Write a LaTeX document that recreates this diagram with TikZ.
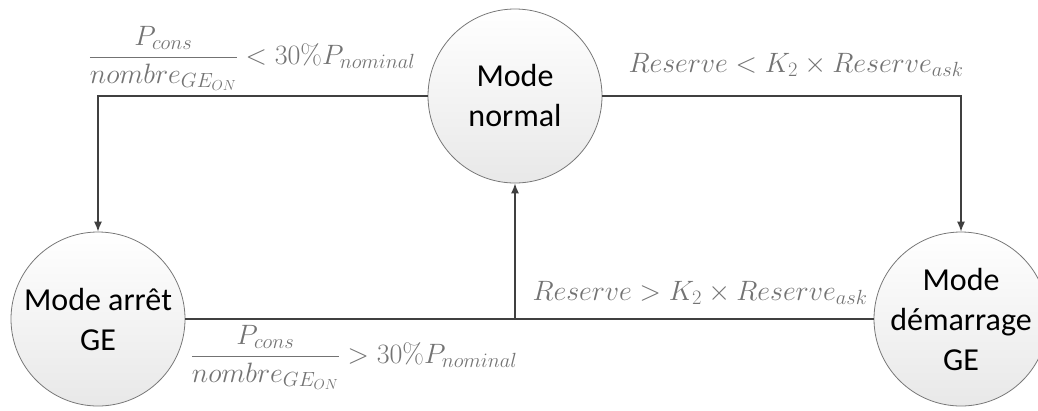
\RequirePackage{fix-cm}
\documentclass[tikz,border=0pt]{standalone}
\usepackage{amsmath}
\usepackage[no-math]{fontspec}
\setmainfont{Carlito}
\usetikzlibrary{positioning,arrows.meta}
\DeclareMathSizes{28}{28}{20.5}{14.5}
\definecolor{condgray}{RGB}{115,115,115}
\definecolor{linegray}{RGB}{64,64,64}
\definecolor{rimgray}{RGB}{120,120,120}

\begin{document}
\begin{tikzpicture}[x=1pt, y=-1pt,
  mode/.style={circle, draw=rimgray, line width=0.8pt, minimum size=174pt, inner sep=0pt, top color=white, bottom color=black!9, align=center, font=\fontsize{32}{40}\selectfont},
  cond/.style={inner sep=0pt, text=condgray, font=\fontsize{28}{33}\selectfont, anchor=base},
  link/.style={line width=1.3pt, linegray},
  arr/.style={link, -{Latex[length=10pt, width=8pt]}}
]
\useasboundingbox (0,0) rectangle (1038,410);

\node[mode] (normal) at (515,96) {Mode\\normal};
\node[mode] (arret) at (98,319) {Mode arrêt\\GE};
\node[mode] (demarrage) at (961,319) {Mode\\démarrage\\GE};

\coordinate (join) at (normal |- arret);

\draw[arr] (normal.west) -| (arret.north);
\draw[arr] (normal.east) -| (demarrage.north);
\draw[link] (arret.east) -- (demarrage.west);
\draw[arr] (join) -- (normal.south);

\node[cond] (stopcond) at (252,64) {$\dfrac{P_{cons}}{nombre_{GE_{ON}}} < 30\% P_{nominal}$};
\node[cond] (startcond) at (796,72) {$Reserve < K_2 \times Reserve_{ask}$};
\node[cond] (backcond) at (700,300) {$Reserve > K_2 \times Reserve_{ask}$};
\node[cond] (wakecond) at (354,363) {$\dfrac{P_{cons}}{nombre_{GE_{ON}}} > 30\% P_{nominal}$};
\end{tikzpicture}
\end{document}
